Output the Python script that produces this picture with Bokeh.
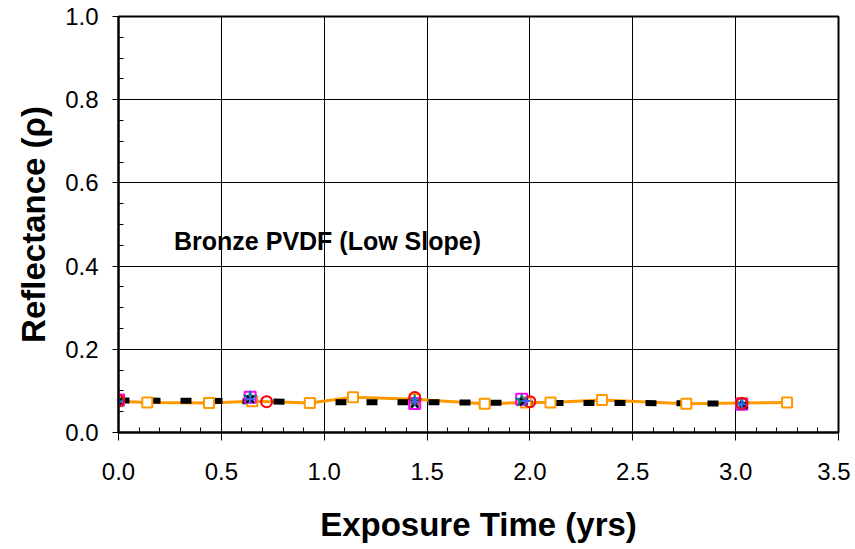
from bokeh.plotting import figure
from bokeh.models import Range1d, FixedTicker, Label, PrintfTickFormatter
from bokeh.embed import file_html
from bokeh.resources import INLINE

# ---- data ----
orange_x = [0.0, 0.14, 0.44, 0.65, 0.93, 1.14, 1.44, 1.78, 1.98, 2.10, 2.35, 2.76, 3.03, 3.25]
orange_y = [0.075, 0.072, 0.071, 0.075, 0.071, 0.085, 0.080, 0.069, 0.072, 0.072, 0.078, 0.069, 0.071, 0.072]

black_x = [0.0, 0.5, 1.0, 1.5, 2.0, 2.5, 3.05]
black_y = [0.077, 0.076, 0.073, 0.073, 0.071, 0.071, 0.069]

mag_x = [0.0, 0.64, 1.44, 1.96, 3.03]
mag_y = [0.078, 0.085, 0.070, 0.080, 0.068]
star_x = [0.0, 0.64, 1.44, 1.96, 3.03]
star_y = [0.076, 0.084, 0.075, 0.077, 0.068]
cross_x = [0.0, 0.64, 1.44, 1.97, 3.04]
cross_y = [0.075, 0.080, 0.068, 0.074, 0.066]
circ_x = [0.0, 0.72, 1.44, 2.00, 3.03]
circ_y = [0.077, 0.074, 0.084, 0.074, 0.070]
plus_x = [0.0, 0.64, 1.44, 1.98, 3.03]
plus_y = [0.074, 0.080, 0.074, 0.076, 0.068]

x_ticks = [0.0, 0.5, 1.0, 1.5, 2.0, 2.5, 3.0, 3.5]
y_ticks = [0.0, 0.2, 0.4, 0.6, 0.8, 1.0]

FONT = "Liberation Sans"

p = figure(width=850, height=545, output_backend="svg", toolbar_location=None,
           x_range=Range1d(0, 3.5), y_range=Range1d(0, 1.0),
           min_border_left=118, min_border_right=12, min_border_top=16, min_border_bottom=113)
p.background_fill_color = "white"
p.border_fill_color = "white"
p.outline_line_color = "black"
p.outline_line_width = 2

# grid
for g in (p.xgrid, p.ygrid):
    g.grid_line_color = "black"
    g.grid_line_width = 1
p.xgrid.ticker = FixedTicker(ticks=x_ticks)
p.ygrid.ticker = FixedTicker(ticks=y_ticks)

# axes
xa = p.xaxis[0]
xa.ticker = FixedTicker(ticks=x_ticks, minor_ticks=[i / 10 for i in range(36)])
xa.formatter = PrintfTickFormatter(format="%.1f")
xa.major_tick_out = 8
xa.major_tick_in = 0
xa.minor_tick_in = 5
xa.minor_tick_out = 0
xa.axis_line_width = 2
xa.major_tick_line_width = 1
xa.minor_tick_line_color = "black"
xa.major_label_text_font = FONT
xa.major_label_text_font_size = "24px"
xa.major_label_text_color = "black"
xa.major_label_standoff = 22
xa.axis_label = "Exposure Time (yrs)"
xa.axis_label_text_font = FONT
xa.axis_label_text_font_size = "33px"
xa.axis_label_text_font_style = "bold"
xa.axis_label_text_color = "black"
xa.axis_label_standoff = 23

ya = p.yaxis[0]
ya.ticker = FixedTicker(ticks=y_ticks, minor_ticks=[i / 20 for i in range(21)])
ya.formatter = PrintfTickFormatter(format="%.1f")
ya.major_tick_out = 6
ya.major_tick_in = 0
ya.minor_tick_in = 5
ya.minor_tick_out = 0
ya.axis_line_width = 2
ya.minor_tick_line_color = "black"
ya.major_label_text_font = FONT
ya.major_label_text_font_size = "24px"
ya.major_label_text_color = "black"
ya.major_label_standoff = 14
ya.axis_label = "Reflectance (\u03c1)"
ya.axis_label_text_font = FONT
ya.axis_label_text_font_size = "33px"
ya.axis_label_text_font_style = "bold"
ya.axis_label_text_color = "black"
ya.axis_label_standoff = 10

# series
p.line(orange_x, orange_y, line_color="#FF9900", line_width=3)
p.line(black_x, black_y, line_color="black", line_width=6, line_dash="11 20")
p.scatter(orange_x, orange_y, marker="square", size=10, fill_color="white",
          line_color="#FF9900", line_width=2)
p.scatter(mag_x, mag_y, marker="square", size=11, fill_color=None,
          line_color="#FF00FF", line_width=2)
p.scatter(star_x, star_y, marker="star", size=14, fill_color="#008080",
          line_color="#008080")
p.scatter(cross_x, cross_y, marker="x", size=10, line_color="black", line_width=2)
p.scatter(circ_x, circ_y, marker="circle", size=11, fill_color=None,
          line_color="#FF0000", line_width=2)
p.scatter(plus_x, plus_y, marker="cross", size=9, line_color="#3366FF", line_width=2)

p.add_layout(Label(x=0.27, y=0.46, text="Bronze PVDF (Low Slope)",
                   text_font=FONT, text_font_size="25px", text_font_style="bold",
                   text_color="black", text_baseline="middle", text_align="left"))

open("out.html", "w").write(file_html(p, INLINE))
